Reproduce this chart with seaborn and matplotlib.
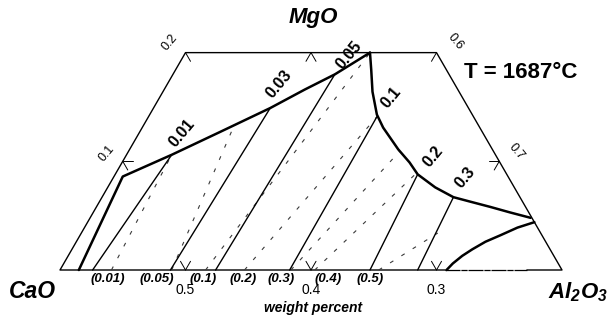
import numpy as np
import pandas as pd
import matplotlib
matplotlib.use("Agg")
import matplotlib.pyplot as plt
import seaborn as sns

sns.set_theme(style="white")
plt.rcParams["font.family"] = ["Liberation Sans", "DejaVu Sans"]
plt.rcParams["text.color"] = "black"
plt.rcParams["mathtext.fontset"] = "custom"
plt.rcParams["mathtext.rm"] = "Liberation Sans:bold:italic"
plt.rcParams["mathtext.it"] = "Liberation Sans:bold:italic"
plt.rcParams["mathtext.bf"] = "Liberation Sans:bold:italic"

SQ3 = np.sqrt(3) / 2

# Section of the CaO-MgO-Al2O3 triangle (weight fractions): MgO 0..0.2,
# Al2O3 0.4..0.8 along the MgO-free base, CaO >= 0.2
frame_mgo = [0.0, 0.0, 0.2, 0.2, 0.0, 0.0]
frame_al = [0.707, 0.4, 0.4, 0.6, 0.8, 0.772]
base_gap_al = [0.707, 0.772]

# MgO saturation boundary, CaO-rich branch
bnd_left_mgo = [0.000, 0.086, 0.106, 0.127, 0.149, 0.166, 0.180, 0.190, 0.200]
bnd_left_al = [0.415, 0.407, 0.436, 0.464, 0.493, 0.512, 0.529, 0.538, 0.547]

# MgO saturation boundary, Al2O3-rich branch
bnd_upper_mgo = [0.200, 0.184, 0.164, 0.143, 0.131, 0.121, 0.111, 0.099,
                 0.088, 0.076, 0.067, 0.063, 0.058, 0.053, 0.048]
bnd_upper_al = [0.547, 0.556, 0.567, 0.581, 0.592, 0.603, 0.614, 0.629,
                0.641, 0.661, 0.680, 0.695, 0.714, 0.732, 0.751]

# Spinel boundary near the Al2O3 corner
bnd_lower_mgo = [0.000, 0.006, 0.013, 0.019, 0.026, 0.032, 0.039, 0.044]
bnd_lower_al = [0.708, 0.710, 0.714, 0.719, 0.726, 0.735, 0.745, 0.756]

# Solid iso-activity lines: Al2O3 on the base, end point on the boundary
solid_base_al = [0.426, 0.488, 0.524, 0.583, 0.647, 0.685]
solid_end_mgo = [0.106, 0.149, 0.180, 0.141, 0.088, 0.067]
solid_end_al = [0.436, 0.493, 0.529, 0.582, 0.641, 0.680]
solid_labels = ["0.01", "0.03", "0.05", "0.1", "0.2", "0.3"]
solid_label_px = [(182, 133), (279, 84), (349, 55), (391, 98), (433, 157), (465, 178)]

# Dashed iso-activity lines
dashed_base_al = [0.441, 0.489, 0.516, 0.547, 0.584, 0.603, 0.654]
dashed_end_mgo = [0.106, 0.135, 0.200, 0.141, 0.109, 0.088, 0.034]
dashed_end_al = [0.436, 0.472, 0.547, 0.582, 0.616, 0.639, 0.684]
base_labels = ["(0.01)", "(0.05)", "(0.1)", "(0.2)", "(0.3)", "(0.4)", "(0.5)"]
base_label_px = [108, 157, 203, 243, 281, 328, 370]

# Axis ticks (CaO on the base, MgO on the left, Al2O3 on the right)
cao_ticks = [0.5, 0.4, 0.3]
mgo_ticks = [0.1, 0.2]
al_ticks = [0.6, 0.7]

W, H = 610, 322
fig = plt.figure(figsize=(W / 100, H / 100), dpi=100)
ax = fig.add_axes([0, 0, 1, 1])
XLIM = (0.352191, 0.838247)
YLIM = (-0.041434, 0.215139)


def cart(mgo, al):
    mgo = np.asarray(mgo, float)
    al = np.asarray(al, float)
    return al + mgo / 2, mgo * SQ3


def draw(mgo, al, **kw):
    x, y = cart(mgo, al)
    df = pd.DataFrame({"x": x, "y": y})
    sns.lineplot(data=df, x="x", y="y", sort=False, estimator=None,
                 ax=ax, legend=False, **kw)


def fpos(x, y):
    return x / W, 1 - y / H


# frame of the section
draw(frame_mgo, frame_al, color="black", linewidth=1.0)
draw([0.0, 0.0], base_gap_al, color="black", linewidth=0.9,
     linestyle=(0, (12, 0.7, 5, 0.7)))

# ticks pointing inward along the composition grid
L = 0.008
tick_specs = []
for c in cao_ticks:
    tick_specs.append((0.0, 1 - c, [(L, -L), (L, 0)]))
tick_specs.append((0.2, 0.4, [(-L, L)]))
tick_specs.append((0.2, 0.5, [(-L, L), (-L, 0)]))
tick_specs.append((0.2, 0.6, [(-L, 0)]))
tick_specs.append((0.1, 0.4, [(0, L), (-L, L)]))
tick_specs.append((0.1, 0.7, [(0, -L), (-L, 0)]))
for m0, a0, dirs in tick_specs:
    for dm, da in dirs:
        draw([m0, m0 + dm], [a0, a0 + da], color="black", linewidth=0.7)

# dashed iso-lines
for b, em, ea in zip(dashed_base_al, dashed_end_mgo, dashed_end_al):
    draw([0.0, em], [b, ea], color="#3a3a3a", linewidth=0.8,
         linestyle=(0, (3.5, 8.5)))

# solid iso-lines
for b, em, ea in zip(solid_base_al, solid_end_mgo, solid_end_al):
    draw([0.0, em], [b, ea], color="black", linewidth=1.0)

# saturation boundaries
for m, a in [(bnd_left_mgo, bnd_left_al), (bnd_upper_mgo, bnd_upper_al),
             (bnd_lower_mgo, bnd_lower_al)]:
    draw(m, a, color="black", linewidth=1.8)

ax.set_xlim(*XLIM)
ax.set_ylim(*YLIM)
ax.axis("off")

# labels along the boundary
for lab, (x, y) in zip(solid_labels, solid_label_px):
    fig.text(*fpos(x, y), lab, fontsize=11.5, fontweight="bold", rotation=50,
             ha="center", va="center", rotation_mode="anchor")

# labels along the base
for lab, x in zip(base_labels, base_label_px):
    fig.text(*fpos(x, 279), lab, fontsize=9.5, fontweight="bold",
             fontstyle="italic", ha="center", va="center")

for c in cao_ticks:
    x = 60 + (1 - c - 0.4) * 1255
    fig.text(*fpos(x, 290), f"{c:.1f}", fontsize=10, ha="center", va="center")

for m, (x, y) in zip(mgo_ticks, [(107, 153), (170, 42)]):
    fig.text(*fpos(x, y), f"{m:.1f}", fontsize=9, rotation=50,
             ha="center", va="center", rotation_mode="anchor")
for a, (x, y) in zip(al_ticks, [(455, 42), (516, 152)]):
    fig.text(*fpos(x, y), f"{a:.1f}", fontsize=9, rotation=-50,
             ha="center", va="center", rotation_mode="anchor")

fig.text(*fpos(313, 17), "MgO", fontsize=16, fontweight="bold",
         fontstyle="italic", ha="center", va="center")
fig.text(*fpos(32, 292), "CaO", fontsize=16.5, fontweight="bold",
         fontstyle="italic", ha="center", va="center")
fig.text(*fpos(578, 292), r"Al$_2$O$_3$", fontsize=16, fontweight="bold",
         fontstyle="italic", ha="center", va="center")
fig.text(*fpos(521, 72), "T = 1687°C", fontsize=16, fontweight="bold",
         ha="center", va="center")
fig.text(*fpos(313, 308), "weight percent", fontsize=10, fontweight="bold",
         fontstyle="italic", ha="center", va="center")

fig.savefig("out.png", dpi=100, facecolor="white")
